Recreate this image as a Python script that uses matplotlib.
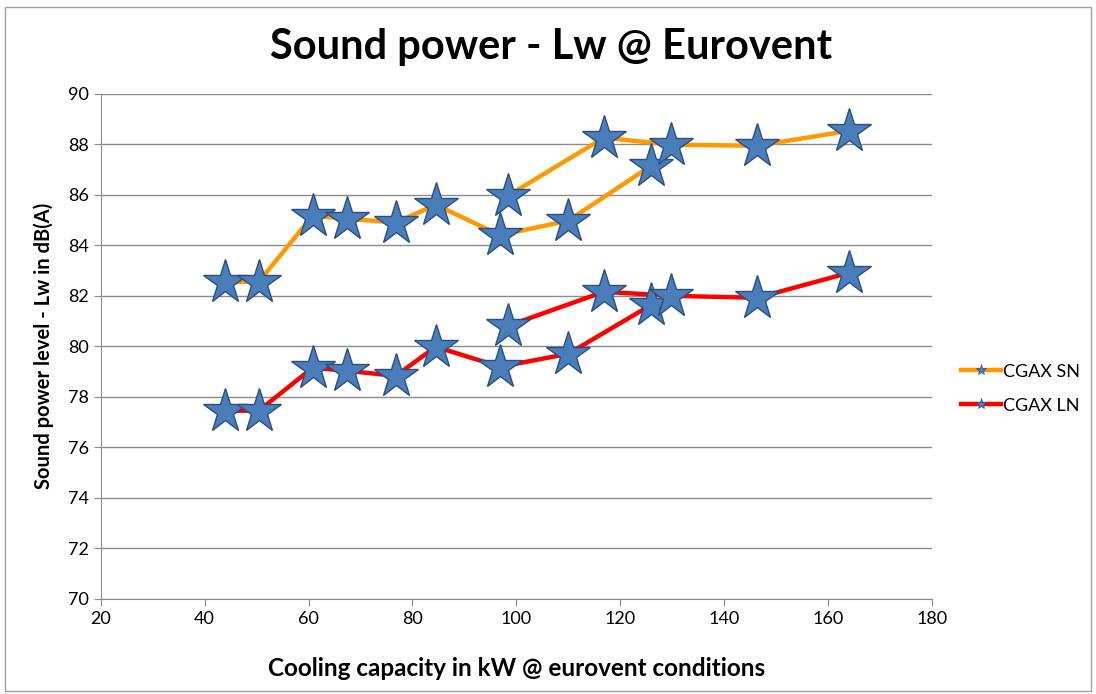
import numpy as np
import matplotlib.pyplot as plt
from matplotlib.patches import Rectangle

# Cooling capacity (kW); NaN splits the two runs of each series
CAPACITY = [43.9, 50.4, 60.8, 67.4, 76.8, 84.5, 96.9, 110.0, 126.0, np.nan,
            98.4, 116.9, 129.8, 146.4, 164.1]
# Sound power level (dB(A))
SN = [82.55, 82.55, 85.17, 85.05, 84.9, 85.6, 84.4, 84.97, 87.15, np.nan,
      85.96, 88.26, 87.98, 87.94, 88.53]
LN = [77.45, 77.45, 79.15, 79.03, 78.83, 79.98, 79.19, 79.7, 81.64, np.nan,
      80.81, 82.16, 82.0, 81.92, 82.91]
SERIES = ["CGAX SN", "CGAX LN"]
COLORS = ["#ff9900", "#ff0000"]
STAR = "#4a7ebb"
STAR_EDGE = "#2a4f7f"

plt.rcParams["font.family"] = ["Lato", "DejaVu Sans"]

fig = plt.figure(figsize=(10.96, 6.94), dpi=100)
ax = fig.add_axes([0.092, 0.137, 0.758, 0.728])

fig.patches.append(Rectangle((0.005, 0.004), 0.99, 0.986, transform=fig.transFigure,
                             fill=False, edgecolor="#a0a0a0", linewidth=1))

for ys, col, name in zip([SN, LN], COLORS, SERIES):
    ax.plot(CAPACITY, ys, color=col, linewidth=3.2, zorder=2)
    ax.plot(CAPACITY, ys, linestyle="none", marker="*", markersize=33,
            markerfacecolor=STAR, markeredgecolor=STAR_EDGE, markeredgewidth=1, zorder=3)
    # legend handle
    ax.plot([], [], color=col, linewidth=3.2, marker="*", markersize=8,
            markerfacecolor=STAR, markeredgecolor=STAR_EDGE, markeredgewidth=0.5, label=name)

ax.set_xlim(20, 180)
ax.set_ylim(70, 90)
ax.set_xticks(np.arange(20, 181, 20))
ax.set_yticks(np.arange(70, 91, 2))
ax.grid(axis="y", color="#8c8c8c", linewidth=1)
ax.set_axisbelow(True)
for s in ["top", "right"]:
    ax.spines[s].set_visible(False)
for s in ["left", "bottom"]:
    ax.spines[s].set_color("#8c8c8c")
ax.tick_params(axis="both", colors="#8c8c8c", labelcolor="#000000", labelsize=13, length=5)

fig.suptitle("Sound power - Lw @ Eurovent", x=0.503, y=0.932, va="center",
             fontsize=30, fontweight="bold")
ax.set_xlabel("Cooling capacity in kW @ eurovent conditions", fontsize=17.5, fontweight="bold", labelpad=22)
ax.set_ylabel("Sound power level - Lw in dB(A)", fontsize=14.5, fontweight="bold", labelpad=10)

handles, labels = ax.get_legend_handles_labels()
fig.legend(handles, labels, loc="center left", bbox_to_anchor=(0.862, 0.44), frameon=False,
           fontsize=13, handlelength=2.2, handletextpad=0.1, labelspacing=1.0)

fig.savefig("out.png", dpi=100)
